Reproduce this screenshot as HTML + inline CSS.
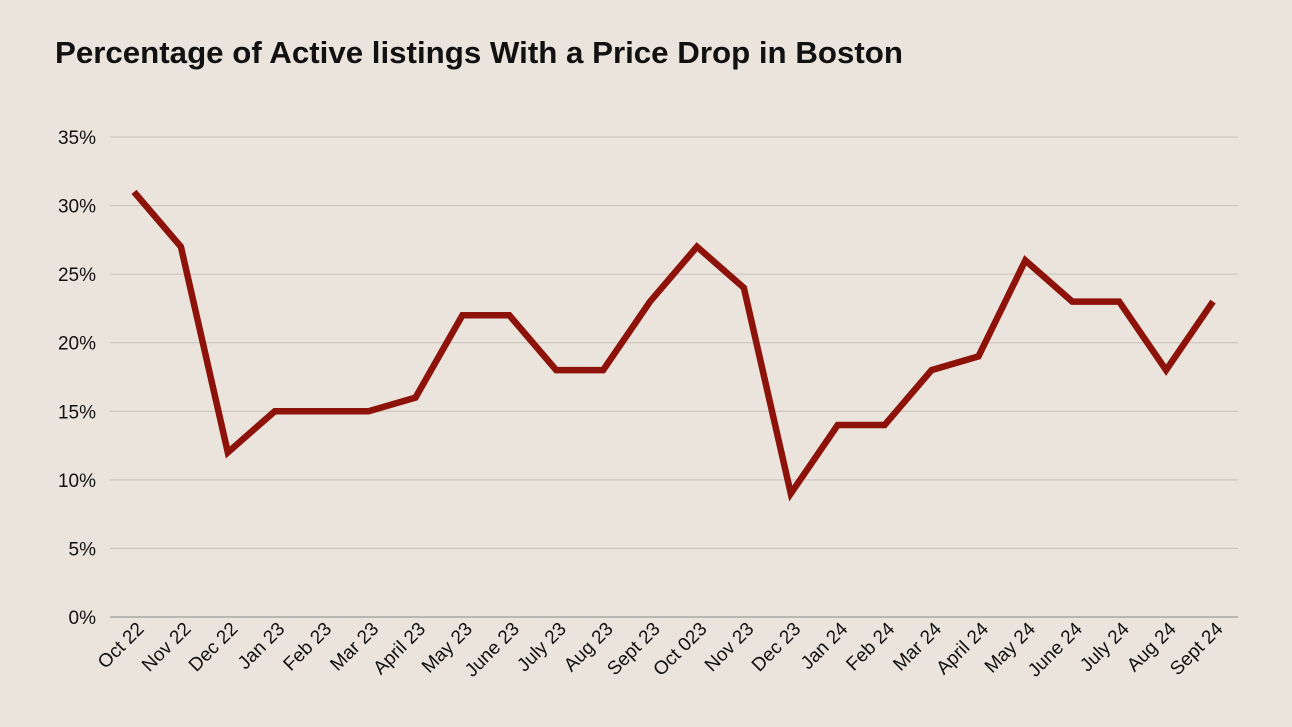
<!DOCTYPE html>
<html><head><meta charset="utf-8"><style>
html,body{margin:0;padding:0;background:#ebe4dc;}
svg{display:block;font-family:"Liberation Sans",sans-serif;}
</style></head><body>
<svg id="chart" width="1292" height="727">
<rect width="1292" height="727" fill="#ebe4dc"/>
<text x="55" y="63" font-size="31" font-weight="bold" fill="#111" textLength="848" lengthAdjust="spacingAndGlyphs">Percentage of Active listings With a Price Drop in Boston</text>
<g id="grid"></g><g id="xlab"></g><path id="line" fill="none" stroke="#8d1209" stroke-width="6.5" stroke-linejoin="miter"/>
</svg>
<script>
const categories=["Oct 22","Nov 22","Dec 22","Jan 23","Feb 23","Mar 23","April 23","May 23","June 23","July 23","Aug 23","Sept 23","Oct 023","Nov 23","Dec 23","Jan 24","Feb 24","Mar 24","April 24","May 24","June 24","July 24","Aug 24","Sept 24"];
const values=[31,27,12,15,15,15,16,22,22,18,18,23,27,24,9,14,14,18,19,26,23,23,18,23];
const yTicks=[0,5,10,15,20,25,30,35];
const NS="http://www.w3.org/2000/svg";
const x=i=>134+i*(1213-134)/(categories.length-1);
const y=v=>617-v*(617-137)/35;
const grid=document.getElementById('grid'),xl=document.getElementById('xlab');
yTicks.forEach(t=>{
 const l=document.createElementNS(NS,'line');
 l.setAttribute('x1',110);l.setAttribute('x2',1238);l.setAttribute('y1',y(t));l.setAttribute('y2',y(t));
 l.setAttribute('stroke',t===0?'#888':'#c8c0b8');l.setAttribute('stroke-width',1);
 
 
 grid.appendChild(l);
 const tx=document.createElementNS(NS,'text');
 tx.setAttribute('x',96);tx.setAttribute('y',y(t)+7);tx.setAttribute('text-anchor','end');tx.setAttribute('font-size','19');tx.setAttribute('fill','#111');
 tx.textContent=t+'%';
 
 
 grid.appendChild(tx);
});
categories.forEach((c,i)=>{
 const tx=document.createElementNS(NS,'text');
 const px=x(i)+11,py=630;
 tx.setAttribute('transform',`translate(${px},${py}) rotate(-45)`);
 tx.setAttribute('text-anchor','end');tx.setAttribute('font-size','19');tx.setAttribute('fill','#111');
 tx.textContent=c;
 
 
 xl.appendChild(tx);
});
document.getElementById('line').setAttribute('d',values.map((v,i)=>(i?'L':'M')+x(i)+' '+y(v)).join(' '));
</script>
</body></html>
